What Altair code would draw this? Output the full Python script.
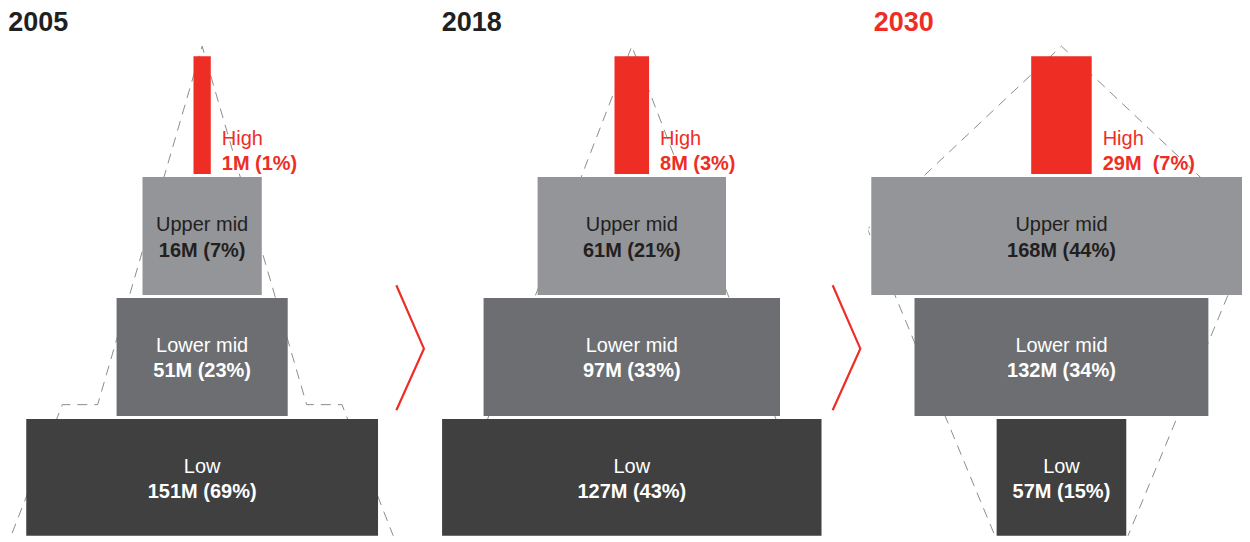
import altair as alt
import pandas as pd

# ---------------- data ----------------
years = ["2005", "2018", "2030"]
classes = ["Low", "Lower mid", "Upper mid", "High"]

pop_2005 = [151, 51, 16, 1]
pop_2018 = [127, 97, 61, 8]
pop_2030 = [57, 132, 168, 29]

share_2005 = [69, 23, 7, 1]
share_2018 = [43, 33, 21, 3]
share_2030 = [15, 34, 44, 7]

# drawn bar widths (relative units, as shown in the pyramid)
width_2005 = [40.7, 19.8, 13.8, 2.0]
width_2018 = [43.9, 34.3, 21.8, 4.0]
width_2030 = [15.0, 34.0, 44.0, 7.0]

# dashed silhouettes (x in width units from centre, y in level units)
outline_x_2005 = [-22.7, -16.18, -12.09, 0.0, 12.09, 16.18, 22.7]
outline_y_2005 = [-0.1, 1.093, 1.093, 4.058, 1.093, 1.093, -0.1]
outline_x_2018 = [-22.49, 0.0, 22.49]
outline_y_2018 = [-0.1, 4.058, -0.1]
outline_x_2030 = [-7.07, -22.44, 0.0, 22.44, 7.07]
outline_y_2030 = [-0.1, 2.545, 4.058, 2.545, -0.1]

# chevrons between panels
chevron_x_1 = [22.47, 25.66, 22.47]
chevron_x_2 = [23.24, 26.44, 23.24]
chevron_y = [2.080, 1.556, 1.047]

title_x = [-22.43, -22.0, -21.71]
title_y = 4.182

# ---------------- styles ----------------
FONT = "Liberation Sans"
RED = "#EE2E24"
DARK = "#231F20"
GRAY = "#8C8C8C"
bar_colors = ["#404041", "#6D6E71", "#939598", RED]
text_colors = ["#FFFFFF", "#FFFFFF", DARK, RED]
year_colors = [DARK, DARK, RED]

PX_PER_UNIT = 8.65
CENTER_PX = 193.3
panel_w = [430, 430, 374]
PANEL_H = 526
LEVEL_PX = 121.0
BASE_PX = 527.0  # svg y of the pyramid base
Y_LO = (BASE_PX - PANEL_H) / LEVEL_PX
Y_HI = BASE_PX / LEVEL_PX

pops = [pop_2005, pop_2018, pop_2030]
shares = [share_2005, share_2018, share_2030]
widths = [width_2005, width_2018, width_2030]
outlines = [(outline_x_2005, outline_y_2005), (outline_x_2018, outline_y_2018),
            (outline_x_2030, outline_y_2030)]
chevrons = [chevron_x_1, chevron_x_2, None]


def value_label(p, s, year, cls):
    sep = "\u00a0 " if (year == "2030" and cls == "High") else " "
    return f"{p}M{sep}({s}%)"


def make_panel(i):
    year = years[i]
    df = pd.DataFrame({
        "cls": classes,
        "level": [0, 1, 2, 3],
        "w": widths[i],
        "label": [value_label(p, s, year, c) for p, s, c in zip(pops[i], shares[i], classes)],
    })
    xs = alt.Scale(domain=[-CENTER_PX / PX_PER_UNIT, (panel_w[i] - CENTER_PX) / PX_PER_UNIT],
                   nice=False, zero=False)
    ys = alt.Scale(domain=[Y_LO, Y_HI], nice=False, zero=False)

    base = alt.Chart(df).transform_calculate(
        x0="-datum.w/2", x1="datum.w/2", xc="0",
        y0="datum.level", y1="datum.level+0.975", ym="datum.level+0.4875",
    )
    bars = base.mark_rect(clip=True).encode(
        x=alt.X("x0:Q", scale=xs, axis=None),
        x2="x1:Q",
        y=alt.Y("y0:Q", scale=ys, axis=None),
        y2="y1:Q",
        color=alt.Color("cls:N", scale=alt.Scale(domain=classes, range=bar_colors), legend=None),
    )
    inner = base.transform_filter("datum.cls != 'High'")
    fill = alt.Fill("cls:N", scale=alt.Scale(domain=classes, range=text_colors), legend=None)
    name_t = inner.mark_text(font=FONT, fontSize=20, dy=-5, baseline="alphabetic", align="center").encode(
        x=alt.X("xc:Q", scale=xs, axis=None), y=alt.Y("ym:Q", scale=ys, axis=None),
        text="cls:N", fill=fill)
    val_t = inner.mark_text(font=FONT, fontSize=20, fontWeight="bold", dy=20.5,
                            baseline="alphabetic", align="center").encode(
        x=alt.X("xc:Q", scale=xs, axis=None), y=alt.Y("ym:Q", scale=ys, axis=None),
        text="label:N", fill=fill)
    high = base.transform_filter("datum.cls == 'High'")
    high_name = high.mark_text(font=FONT, fontSize=20, dx=11, dy=-29, align="left",
                               baseline="alphabetic", color=RED).encode(
        x=alt.X("x1:Q", scale=xs, axis=None), y=alt.Y("y0:Q", scale=ys, axis=None), text="cls:N")
    high_val = high.mark_text(font=FONT, fontSize=20, fontWeight="bold", dx=11, dy=-4,
                              align="left", baseline="alphabetic", color=RED).encode(
        x=alt.X("x1:Q", scale=xs, axis=None), y=alt.Y("y0:Q", scale=ys, axis=None), text="label:N")

    ox, oy = outlines[i]
    odf = pd.DataFrame({"x": ox, "y": oy, "o": list(range(len(ox)))})
    outline = alt.Chart(odf).mark_line(clip=True, strokeDash=[10, 7], strokeWidth=1, color=GRAY).encode(
        x=alt.X("x:Q", scale=xs, axis=None), y=alt.Y("y:Q", scale=ys, axis=None), order="o:Q")

    tdf = pd.DataFrame({"x": [title_x[i]], "y": [title_y], "t": [year]})
    title = alt.Chart(tdf).mark_text(font=FONT, fontSize=27, fontWeight="bold", align="left",
                                     baseline="alphabetic", color=year_colors[i]).encode(
        x=alt.X("x:Q", scale=xs, axis=None), y=alt.Y("y:Q", scale=ys, axis=None), text="t:N")

    layers = [outline, bars, name_t, val_t, high_name, high_val, title]
    if chevrons[i] is not None:
        cdf = pd.DataFrame({"x": chevrons[i], "y": chevron_y, "o": [0, 1, 2]})
        chev = alt.Chart(cdf).mark_line(color=RED, strokeWidth=2.2, strokeJoin="miter").encode(
            x=alt.X("x:Q", scale=xs, axis=None), y=alt.Y("y:Q", scale=ys, axis=None), order="o:Q")
        layers.append(chev)
    return alt.layer(*layers).properties(width=panel_w[i], height=PANEL_H)


chart = alt.hconcat(*[make_panel(i) for i in range(3)], spacing=0, bounds="flush").properties(
    padding=0
).configure_view(stroke=None)

chart.save("out.html", embed_options={"renderer": "svg", "actions": False})
